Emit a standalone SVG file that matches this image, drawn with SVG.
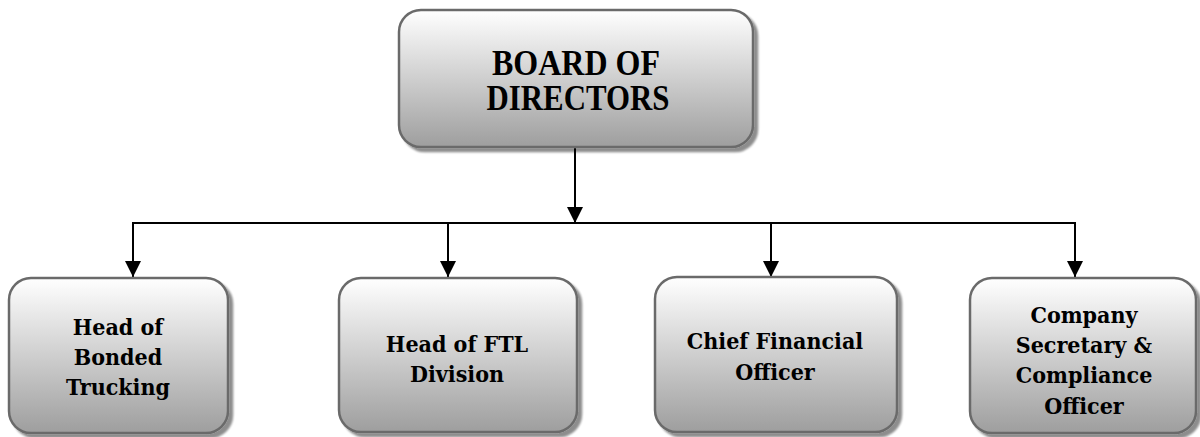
<svg xmlns="http://www.w3.org/2000/svg" width="1200" height="437" viewBox="0 0 1200 437">
<defs>
<linearGradient id="g" x1="0" y1="0" x2="0" y2="1">
<stop offset="0" stop-color="#ffffff"/>
<stop offset="1" stop-color="#9e9e9e"/>
</linearGradient>
<filter id="sh" x="-10%" y="-10%" width="130%" height="130%">
<feGaussianBlur in="SourceAlpha" stdDeviation="1.2"/>
<feOffset dx="4" dy="4" result="o"/>
<feComponentTransfer><feFuncA type="linear" slope="0.45"/></feComponentTransfer>
<feMerge><feMergeNode/><feMergeNode in="SourceGraphic"/></feMerge>
</filter>
<marker id="ah" markerWidth="16" markerHeight="16" viewBox="0 0 16 16" refX="16" refY="8" orient="auto" markerUnits="userSpaceOnUse">
<path d="M0,0 L16,8 L0,16 Z" fill="#000"/>
</marker>
</defs>
<style>
.box{fill:url(#g);stroke:#6b6b6b;stroke-width:2.5;filter:url(#sh)}
.t1{font-family:"Liberation Serif","Times New Roman",serif;font-weight:bold;font-size:36px;fill:#000;text-anchor:middle}
.t2{font-family:"DejaVu Serif Condensed","DejaVu Serif",serif;font-stretch:condensed;font-weight:bold;font-size:23px;fill:#000;text-anchor:middle}
.c{stroke:#000;stroke-width:2;fill:none}
.ca{stroke:#000;stroke-width:2;fill:none;marker-end:url(#ah)}
</style>
<g id="connectors">
<line class="ca" x1="575" y1="147" x2="575" y2="223"/>
<line class="c" x1="132" y1="223" x2="1076" y2="223"/>
<line class="ca" x1="133" y1="223" x2="133" y2="277"/>
<line class="ca" x1="448" y1="223" x2="448" y2="277"/>
<line class="ca" x1="771" y1="223" x2="771" y2="277"/>
<line class="ca" x1="1075" y1="223" x2="1075" y2="277"/>
</g>
<g id="board">
<rect class="box" x="399" y="10" width="354" height="137" rx="22"/>
<text class="t1" x="576" y="75" textLength="168" lengthAdjust="spacingAndGlyphs">BOARD OF</text>
<text class="t1" x="578" y="110" textLength="183" lengthAdjust="spacingAndGlyphs">DIRECTORS</text>
</g>
<g id="bonded">
<rect class="box" x="9" y="278" width="219" height="155" rx="22"/>
<text class="t2" x="118" y="335">Head of</text>
<text class="t2" x="118" y="365">Bonded</text>
<text class="t2" x="118" y="395">Trucking</text>
</g>
<g id="ftl">
<rect class="box" x="339" y="278" width="238" height="154" rx="22"/>
<text class="t2" x="457" y="352">Head of FTL</text>
<text class="t2" x="457" y="382">Division</text>
</g>
<g id="cfo">
<rect class="box" x="655" y="277" width="242" height="155" rx="22"/>
<text class="t2" x="775" y="349">Chief Financial</text>
<text class="t2" x="775" y="380">Officer</text>
</g>
<g id="secretary">
<rect class="box" x="970" y="278" width="226" height="155" rx="22"/>
<text class="t2" x="1084" y="323">Company</text>
<text class="t2" x="1084" y="353">Secretary &amp;</text>
<text class="t2" x="1084" y="383">Compliance</text>
<text class="t2" x="1084" y="414">Officer</text>
</g>
</svg>
